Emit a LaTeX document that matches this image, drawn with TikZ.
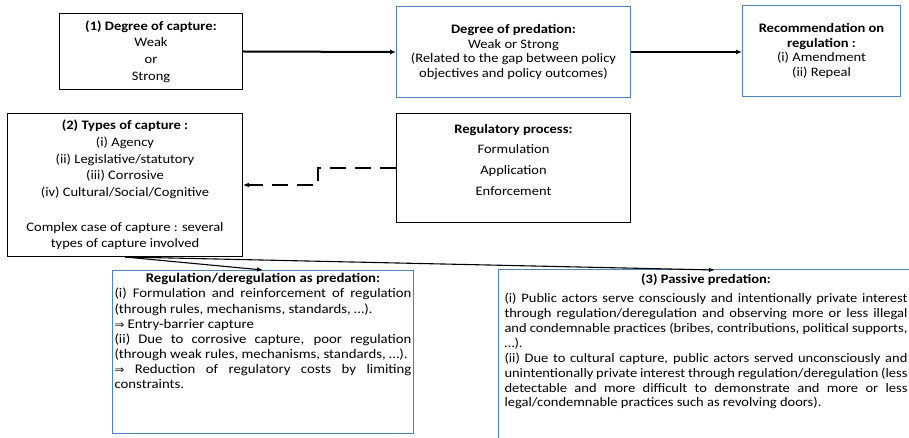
\documentclass[tikz,border=0pt]{standalone}
\usepackage{fontspec}
\setmainfont{Carlito}[FakeStretch=1.12]
\newfontfamily\symfont{DejaVu Sans}[FakeStretch=1.12]
\usetikzlibrary{arrows.meta}
\definecolor{bbl}{RGB}{79,129,189}
\newcommand{\jl}[1]{\makebox[\hsize][s]{#1}}
\newcommand{\imp}{{\symfont\fontsize{10.5}{10.5}\selectfont ⇒}}
\begin{document}
\begin{tikzpicture}[x=1bp,y=1bp,
  box/.style={draw=black, line width=1bp, inner sep=0pt, align=center, anchor=north west},
  bbox/.style={box, draw=bbl},
  fa/.style={font=\fontsize{13}{16.7}\selectfont},
  fb/.style={font=\fontsize{13}{14.6}\selectfont},
  fc/.style={font=\fontsize{13}{20.8}\selectfont},
  fd/.style={font=\fontsize{13.25}{15.2}\selectfont},
  fe/.style={font=\fontsize{13}{14.9}\selectfont},
  conn/.style={line width=2bp, -{Latex[length=6bp,width=5bp]}},
  thinconn/.style={line width=1.1bp, -{Latex[length=6bp,width=4.5bp]}},
  dashconn/.style={line width=2bp, dash pattern=on 16bp off 9bp, -{Latex[length=6bp,width=5bp]}}]
\clip (0,0) rectangle (909,-438);
\fill[white] (0,0) rectangle (909,-438);

\node[box, fa, minimum width=183bp, minimum height=76bp] (b1) at (59,-13)
  {\textbf{(1) Degree of capture:}\\Weak\\or\\Strong};
\node[bbox, fb, minimum width=234bp, minimum height=91bp] (b2) at (396,-6)
  {\textbf{Degree of predation:}\\Weak or Strong\\(Related to the gap between policy\\objectives and policy outcomes)};
\node[bbox, fb, minimum width=158bp, minimum height=91bp] (b3) at (742,-5)
  {\textbf{Recommendation on}\\\textbf{regulation :}\\(i) Amendment\\(ii) Repeal};
\node[box, fa, minimum width=235bp, minimum height=143bp] (b4) at (7,-113)
  {\textbf{(2) Types of capture :}\\(i) Agency\\(ii) Legislative/statutory\\(iii) Corrosive\\(iv) Cultural/Social/Cognitive\\[18bp]Complex case of capture : several\\types of capture involved};
\node[box, fc, minimum width=234bp, minimum height=109bp] (b5) at (396,-113)
  {\textbf{Regulatory process:}\\Formulation\\Application\\Enforcement\\[-4bp]\mbox{}};

\node[bbox, fd, inner xsep=2bp, align=left] (b6) at (112,-270)
  {\parbox[c][163bp][t]{297bp}{\vspace*{3bp}%
  \makebox[\hsize][c]{\textbf{Regulation/deregulation as predation:}}\\
  \jl{(i) Formulation and reinforcement of regulation}\\
  (through rules, mechanisms, standards, …).\\
  \imp{} Entry-barrier capture\\
  \jl{(ii) Due to corrosive capture, poor regulation}\\
  (through weak rules, mechanisms, standards, …).\\
  \jl{\imp{} Reduction of regulatory costs by limiting}\\
  constraints.}};

\node[box, draw=none, fe, inner xsep=6bp, align=left] (b7) at (498,-270)
  {\parbox[t]{403bp}{\vspace*{3bp}%
  \makebox[\hsize][c]{\textbf{(3) Passive predation:}}\\[5bp]
  \jl{(i) Public actors serve consciously and intentionally private interest}\\
  \jl{through regulation/deregulation and observing more or less illegal}\\
  \jl{and condemnable practices (bribes, contributions, political supports,}\\
  …).\\
  \jl{(ii) Due to cultural capture, public actors served unconsciously and}\\
  \jl{unintentionally private interest through regulation/deregulation (less}\\
  \jl{detectable and more difficult to demonstrate and more or less}\\
  legal/condemnable practices such as revolving doors).}};
\draw[bbl, line width=1bp] (b7.north west) -- ++(0,-200) (b7.north west) -- ++(460,0);
\coordinate (b7in) at (715,-270);

\draw[conn] (b1.east) -- (b2.west);
\draw[conn] (b2.east) -- (b3.west |- b2.east);
\draw[dashconn] (b5.west) -- ++(-78,0) |- (b4.east);
\draw[thinconn] (b4.south) -- (b6.north);
\draw[thinconn] (b4.south) -- (b7in);
\end{tikzpicture}
\end{document}
